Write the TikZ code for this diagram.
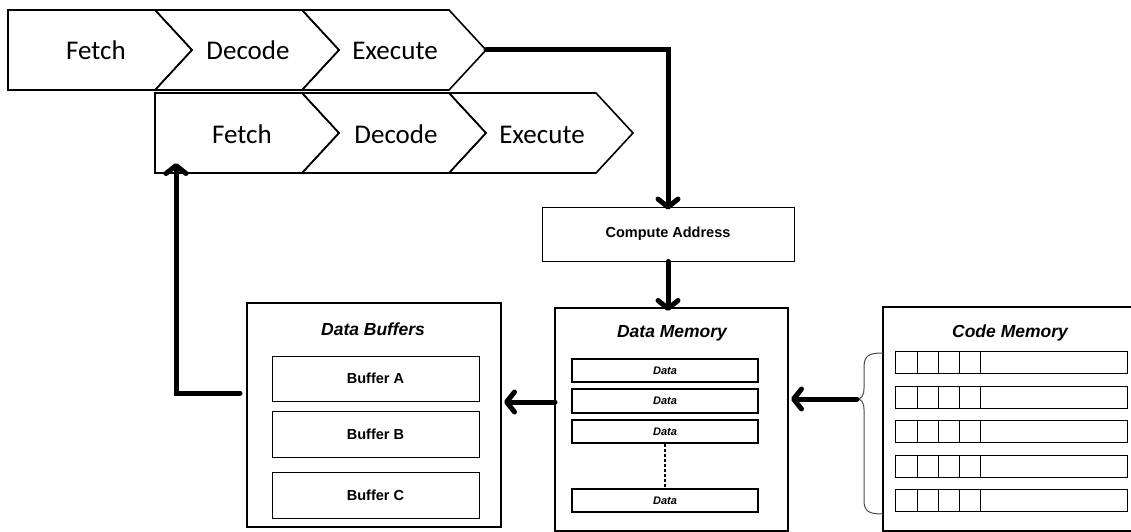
\documentclass[tikz,border=0pt]{standalone}
\usepackage{fontspec}
\setmainfont{Liberation Sans}
\newfontfamily\calib{Carlito}
\usetikzlibrary{arrows.meta,decorations.pathreplacing}
\tikzset{
  chev/.style={draw, line width=1.6pt, line join=miter},
  chevtext/.style={font=\calib\fontsize{27}{30}\selectfont, inner sep=0pt, anchor=base},
  bigbox/.style={draw, line width=1.4pt, fill=white},
  innerbox/.style={draw, line width=1.1pt},
  cellbox/.style={draw, line width=0.9pt},
  title/.style={font=\bfseries\itshape\fontsize{17.5}{20}\selectfont, inner sep=0pt},
  btext/.style={font=\bfseries\fontsize{14.5}{17}\selectfont, inner sep=0pt},
  dtext/.style={font=\bfseries\itshape\fontsize{11}{13}\selectfont, inner sep=0pt},
  flow/.style={line width=5pt, line cap=round, line join=miter,
    -{Straight Barb[length=8pt,width=20pt,line cap=round,line join=round]}},
}
\begin{document}
\begin{tikzpicture}[x=1pt,y=-1pt]
\useasboundingbox (0,0) rectangle (1131,532);
% ---------- top pipeline row ----------
\draw[chev] (8,10) -- (155,10) -- (192,50) -- (155,90) -- (8,90) -- cycle;
\draw[chev] (155,10) -- (302,10) -- (339,50) -- (302,90) -- (155,90) -- (192,50) -- cycle;
\draw[chev] (302,10) -- (449,10) -- (486,50) -- (449,90) -- (302,90) -- (339,50) -- cycle;
\node[chevtext] (f1) at (96,60) {Fetch};
\node[chevtext] (d1) at (248,60) {Decode};
\node[chevtext] (e1) at (395,60) {Execute};
\coordinate (e1tip) at (486,50);
% ---------- second pipeline row ----------
\draw[chev] (155,93) -- (302,93) -- (339,133) -- (302,173) -- (155,173) -- cycle;
\draw[chev] (302,93) -- (449,93) -- (486,133) -- (449,173) -- (302,173) -- (339,133) -- cycle;
\draw[chev] (449,93) -- (596,93) -- (633,133) -- (596,173) -- (449,173) -- (486,133) -- cycle;
\node[chevtext] (f2) at (242,143) {Fetch};
\node[chevtext] (d2) at (396,143) {Decode};
\node[chevtext] (e2) at (542,143) {Execute};
\coordinate (row2bot) at (176,173);
% ---------- compute address ----------
\node[draw, line width=0.9pt, minimum width=252pt, minimum height=54pt, inner sep=0pt,
  btext] (ca) at (668,234) {Compute Address};
% ---------- data memory ----------
\draw[bigbox] (555,308) rectangle (788,531);
\coordinate (dmtop) at (668,308);
\coordinate (dmleft) at (555,402);
\coordinate (dmright) at (788,399);
\node[title] (dmt) at (672,333) {Data Memory};
\node[innerbox, dtext, minimum width=186pt, minimum height=23pt] (dm1) at (665,370.5) {Data};
\node[innerbox, dtext, minimum width=186pt, minimum height=24pt] (dm2) at (665,401) {Data};
\node[innerbox, dtext, minimum width=186pt, minimum height=23pt] (dm3) at (665,431.5) {Data};
\node[innerbox, dtext, minimum width=186pt, minimum height=23pt] (dm4) at (665,500.5) {Data};
\draw[line width=1.4pt, dash pattern=on 3pt off 2pt] (dm3.south) -- (dm4.north);
% ---------- data buffers ----------
\draw[bigbox] (247,303) rectangle (501,527);
\coordinate (dbright) at (501,402);
\coordinate (dbleft) at (240,393);
\node[title] (dbt) at (373,329) {Data Buffers};
\node[innerbox, line width=0.9pt, btext, minimum width=207pt, minimum height=45pt] (ba) at (375.5,378.5) {Buffer A};
\node[innerbox, line width=0.9pt, btext, minimum width=207pt, minimum height=46pt] (bb) at (375.5,434) {Buffer B};
\node[innerbox, line width=0.9pt, btext, minimum width=207pt, minimum height=46pt] (bc) at (375.5,495) {Buffer C};
% ---------- code memory ----------
\draw[bigbox] (883,531) -- (883,307) -- (1140,307) -- (1140,531) -- cycle;
\node[title] (cmt) at (1010,333) {Code Memory};
\foreach \i/\yt in {1/351,2/386,3/420,4/455,5/489} {
  \draw[cellbox] (895,\yt) rectangle (1127,\yt+22);
  \foreach \xx in {917,938,959,980} {
    \draw[cellbox] (\xx,\yt) -- (\xx,\yt+22);
  }
}
\draw[gray!60!black, line width=1pt]
  (883,353) .. controls (868,353) and (864,356) .. (864,368)
  -- (864,388) .. controls (864,396) and (861,399) .. (857,399)
  .. controls (861,399) and (864,402) .. (864,410)
  -- (864,500) .. controls (864,511) and (868,514) .. (883,514);
\coordinate (brace) at (857,399);
% ---------- connectors ----------
\draw[flow] (e1tip) -- (668,50) -- ([yshift=-3pt]ca.north);
\draw[flow] (ca.south) -- ([yshift=-3pt]dmtop);
\draw[flow] (dmleft) -- ([xshift=3pt]dbright);
\draw[flow] (brace) -- ([xshift=3pt]dmright);
\draw[flow] (dbleft) -- (176,393) -- ([yshift=10pt]row2bot);
\end{tikzpicture}
\end{document}
